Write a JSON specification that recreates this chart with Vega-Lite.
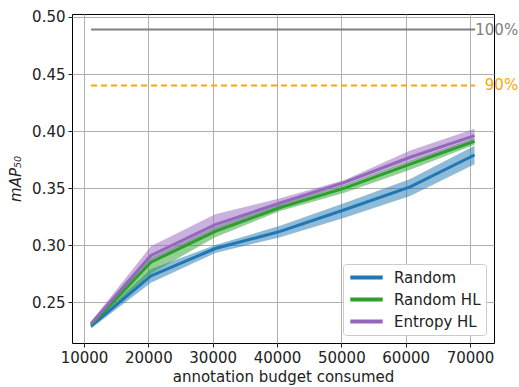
{
  "$schema": "https://vega.github.io/schema/vega-lite/v6.json",
  "autosize": "none",
  "width": 422,
  "height": 329,
  "padding": {"left": 72, "top": 14, "right": 25, "bottom": 44},
  "background": "white",
  "config": {
    "font": "DejaVu Sans",
    "view": {"stroke": "black", "strokeWidth": 1},
    "axis": {
      "labelFont": "DejaVu Sans", "labelFontSize": 15, "labelColor": "#222",
      "titleFont": "DejaVu Sans", "titleFontSize": 15, "titleFontWeight": "normal", "titleColor": "#222",
      "gridColor": "#b0b0b0", "gridWidth": 1, "gridOpacity": 1,
      "domain": false, "tickColor": "#222", "tickSize": 4, "labelPadding": 3
    }
  },
  "datasets": {
    "runs": [
      {"method": "Random", "budget": 11100, "mean": 0.229, "lo": 0.227, "hi": 0.231},
      {"method": "Random", "budget": 20400, "mean": 0.273, "lo": 0.267, "hi": 0.279},
      {"method": "Random", "budget": 30400, "mean": 0.297, "lo": 0.293, "hi": 0.300},
      {"method": "Random", "budget": 40500, "mean": 0.312, "lo": 0.307, "hi": 0.317},
      {"method": "Random", "budget": 50500, "mean": 0.331, "lo": 0.324, "hi": 0.337},
      {"method": "Random", "budget": 60700, "mean": 0.351, "lo": 0.343, "hi": 0.358},
      {"method": "Random", "budget": 70700, "mean": 0.379, "lo": 0.371, "hi": 0.387},
      {"method": "Random HL", "budget": 11100, "mean": 0.230, "lo": 0.228, "hi": 0.232},
      {"method": "Random HL", "budget": 20400, "mean": 0.285, "lo": 0.275, "hi": 0.289},
      {"method": "Random HL", "budget": 30400, "mean": 0.312, "lo": 0.307, "hi": 0.316},
      {"method": "Random HL", "budget": 40500, "mean": 0.333, "lo": 0.330, "hi": 0.337},
      {"method": "Random HL", "budget": 50500, "mean": 0.350, "lo": 0.346, "hi": 0.353},
      {"method": "Random HL", "budget": 60700, "mean": 0.371, "lo": 0.366, "hi": 0.374},
      {"method": "Random HL", "budget": 70700, "mean": 0.391, "lo": 0.388, "hi": 0.394},
      {"method": "Entropy HL", "budget": 11100, "mean": 0.231, "lo": 0.229, "hi": 0.233},
      {"method": "Entropy HL", "budget": 20400, "mean": 0.291, "lo": 0.284, "hi": 0.299},
      {"method": "Entropy HL", "budget": 30400, "mean": 0.318, "lo": 0.312, "hi": 0.327},
      {"method": "Entropy HL", "budget": 40500, "mean": 0.337, "lo": 0.334, "hi": 0.341},
      {"method": "Entropy HL", "budget": 50500, "mean": 0.355, "lo": 0.352, "hi": 0.357},
      {"method": "Entropy HL", "budget": 60700, "mean": 0.377, "lo": 0.373, "hi": 0.383},
      {"method": "Entropy HL", "budget": 70700, "mean": 0.396, "lo": 0.390, "hi": 0.402}
    ],
    "refs": [
      {"level": "100%", "y": 0.489, "x1": 11100, "x2": 70800},
      {"level": "90%", "y": 0.440, "x1": 11100, "x2": 70800}
    ]
  },
  "layer": [
    {
      "data": {"name": "runs"},
      "mark": {"type": "area", "opacity": 0.5},
      "encoding": {
        "x": {"field": "budget", "type": "quantitative",
              "scale": {"domain": [8134, 73730], "nice": false, "zero": false},
              "axis": {"values": [10000, 20000, 30000, 40000, 50000, 60000, 70000], "format": "d", "title": "annotation budget consumed", "titlePadding": 4}},
        "y": {"field": "lo", "type": "quantitative",
              "scale": {"domain": [0.2142, 0.5026], "nice": false, "zero": false},
              "axis": {"values": [0.25, 0.30, 0.35, 0.40, 0.45, 0.50], "format": ".2f", "title": "mAP₅₀", "titleFontStyle": "italic", "titlePadding": 8}},
        "y2": {"field": "hi"},
        "color": {"field": "method", "type": "nominal",
                  "scale": {"domain": ["Random", "Random HL", "Entropy HL"], "range": ["#1f77b4", "#2ca02c", "#9467bd"]},
                  "legend": null}
      }
    },
    {
      "data": {"name": "refs"},
      "mark": {"type": "rule", "strokeWidth": 2},
      "encoding": {
        "x": {"field": "x1", "type": "quantitative"},
        "x2": {"field": "x2"},
        "y": {"field": "y", "type": "quantitative"},
        "stroke": {"field": "level", "type": "nominal", "scale": {"domain": ["100%", "90%"], "range": ["#808080", "#ffa500"]}, "legend": null},
        "strokeDash": {"field": "level", "type": "nominal", "scale": {"domain": ["100%", "90%"], "range": [[1, 0], [6, 4]]}, "legend": null}
      }
    },
    {
      "data": {"name": "refs"},
      "mark": {"type": "text", "align": "right", "baseline": "middle", "fontSize": 15, "font": "DejaVu Sans", "dx": 43},
      "encoding": {
        "x": {"field": "x2", "type": "quantitative"},
        "y": {"field": "y", "type": "quantitative"},
        "text": {"field": "level"},
        "color": {"field": "level", "type": "nominal", "scale": {"domain": ["100%", "90%"], "range": ["#808080", "#ffa500"]}, "legend": null}
      }
    },
    {
      "data": {"name": "runs"},
      "mark": {"type": "line", "strokeWidth": 3},
      "encoding": {
        "x": {"field": "budget", "type": "quantitative"},
        "y": {"field": "mean", "type": "quantitative"},
        "color": {"field": "method", "type": "nominal",
                  "scale": {"domain": ["Random", "Random HL", "Entropy HL"], "range": ["#1f77b4", "#2ca02c", "#9467bd"]},
                  "legend": {"title": null, "orient": "bottom-right", "offset": 8, "symbolType": "stroke", "symbolSize": 1050, "symbolStrokeWidth": 4,
                             "clipHeight": 17, "labelFontSize": 15, "labelFont": "DejaVu Sans", "labelColor": "#222", "rowPadding": 5,
                             "strokeColor": "#cccccc", "fillColor": "white", "cornerRadius": 3, "padding": 5, "labelOffset": 9}}
      }
    }
  ],
  "resolve": {"scale": {"color": "independent"}}
}
